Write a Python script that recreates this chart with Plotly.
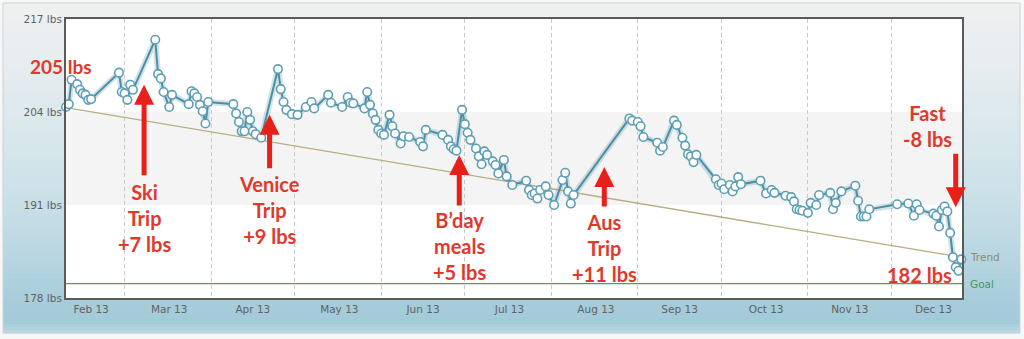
import plotly.graph_objects as go

# ---- daily weigh-ins (lbs) ----
dates = [
    "2013-02-08", "2013-02-09", "2013-02-10", "2013-02-12", "2013-02-13", "2013-02-14",
    "2013-02-15", "2013-02-16", "2013-02-17", "2013-02-27", "2013-02-28", "2013-03-01",
    "2013-03-02", "2013-03-03", "2013-03-04", "2013-03-12", "2013-03-13", "2013-03-14",
    "2013-03-15", "2013-03-17", "2013-03-18", "2013-03-24", "2013-03-25", "2013-03-26",
    "2013-03-27", "2013-03-28", "2013-03-29", "2013-03-30", "2013-03-31", "2013-04-09",
    "2013-04-10", "2013-04-11", "2013-04-12", "2013-04-13", "2013-04-14", "2013-04-15",
    "2013-04-16", "2013-04-17", "2013-04-19", "2013-04-25", "2013-04-26", "2013-04-27",
    "2013-04-28", "2013-04-30", "2013-05-02", "2013-05-05", "2013-05-07", "2013-05-08",
    "2013-05-13", "2013-05-14", "2013-05-18", "2013-05-20", "2013-05-21", "2013-05-22",
    "2013-05-26", "2013-05-27", "2013-05-28", "2013-05-29", "2013-05-30", "2013-05-31",
    "2013-06-01", "2013-06-02", "2013-06-04", "2013-06-05", "2013-06-06", "2013-06-08",
    "2013-06-09", "2013-06-11", "2013-06-15", "2013-06-16", "2013-06-17", "2013-06-23",
    "2013-06-25", "2013-06-26", "2013-06-27", "2013-06-28", "2013-06-30", "2013-07-01",
    "2013-07-02", "2013-07-03", "2013-07-05", "2013-07-06", "2013-07-07", "2013-07-08",
    "2013-07-09", "2013-07-11", "2013-07-12", "2013-07-13", "2013-07-15", "2013-07-16",
    "2013-07-18", "2013-07-23", "2013-07-24", "2013-07-25", "2013-07-26", "2013-07-27",
    "2013-07-28", "2013-07-30", "2013-07-31", "2013-08-02", "2013-08-05", "2013-08-06",
    "2013-08-07", "2013-08-08", "2013-08-09", "2013-08-29", "2013-08-30", "2013-09-01",
    "2013-09-02", "2013-09-03", "2013-09-08", "2013-09-09", "2013-09-10", "2013-09-14",
    "2013-09-15", "2013-09-17", "2013-09-18", "2013-09-19", "2013-09-20", "2013-09-21",
    "2013-09-22", "2013-09-29", "2013-09-30", "2013-10-01", "2013-10-02", "2013-10-04",
    "2013-10-05", "2013-10-06", "2013-10-07", "2013-10-08", "2013-10-15", "2013-10-17",
    "2013-10-19", "2013-10-20", "2013-10-24", "2013-10-26", "2013-10-27", "2013-10-28",
    "2013-10-29", "2013-10-30", "2013-11-01", "2013-11-02", "2013-11-04", "2013-11-05",
    "2013-11-09", "2013-11-10", "2013-11-11", "2013-11-13", "2013-11-18", "2013-11-19",
    "2013-11-20", "2013-11-21", "2013-11-22", "2013-11-23", "2013-12-03", "2013-12-07",
    "2013-12-09", "2013-12-10", "2013-12-11", "2013-12-16", "2013-12-17", "2013-12-18",
    "2013-12-19", "2013-12-20", "2013-12-21", "2013-12-22", "2013-12-23", "2013-12-24",
    "2013-12-25", "2013-12-26",
]
weights = [
    204.7, 205.1, 208.5, 207.9, 207.1, 206.6,
    206.4, 205.7, 205.8, 209.5, 206.8, 206.6,
    205.7, 207.8, 207.1, 214.1, 209.3, 208.7,
    206.8, 204.7, 206.4, 205.1, 206.9, 206.6,
    206.1, 205.0, 204.1, 202.4, 205.4, 205.1,
    203.8, 202.6, 201.3, 201.3, 204.0, 202.9,
    201.3, 200.9, 200.4, 210.0, 207.2, 205.4,
    204.3, 203.7, 203.6, 204.7, 205.4, 204.5,
    206.4, 205.3, 204.7, 206.1, 205.3, 205.2,
    204.5, 206.8, 205.0, 203.8, 202.9, 201.5,
    201.0, 200.8, 203.6, 202.0, 201.0, 199.6,
    200.6, 200.5, 199.8, 199.2, 201.5, 200.8,
    200.1, 199.2, 198.8, 198.6, 204.3, 202.3,
    201.1, 200.1, 198.9, 197.8, 196.7, 198.5,
    198.0, 197.1, 196.6, 195.4, 197.3, 195.0,
    193.8, 194.4, 193.1, 192.4, 192.6, 191.9,
    193.1, 193.6, 192.4, 191.0, 194.5, 195.5,
    192.9, 191.2, 192.4, 203.1, 202.8, 202.6,
    202.0, 200.5, 199.7, 198.6, 199.1, 202.8,
    202.2, 200.4, 199.3, 198.1, 197.8, 197.0,
    198.0, 194.6, 193.8, 194.0, 193.2, 193.8,
    192.9, 193.6, 194.9, 193.9, 194.4, 192.6,
    193.1, 192.7, 192.3, 192.1, 191.5, 190.4,
    190.3, 190.2, 189.9, 191.3, 191.0, 192.4,
    192.7, 190.4, 191.3, 192.9, 193.7, 191.6,
    189.4, 189.4, 189.4, 190.4, 191.1, 191.2,
    189.5, 191.1, 190.3, 189.8, 189.5, 188.0,
    190.3, 190.8, 190.1, 187.1, 183.7, 182.3,
    181.8, 183.4,
]

# ---- trend and goal ----
trend_dates = ["2013-02-08", "2013-12-26"]
trend_values = [204.6, 183.7]
goal_dates = ["2013-02-08", "2013-12-26 06:00"]
goal_values = [180, 180]

# ---- axes ----
x_range = ["2013-02-08", "2013-12-26 06:00"]
month_starts = ["2013-03-01", "2013-04-01", "2013-05-01", "2013-06-01", "2013-07-01",
                "2013-08-01", "2013-09-01", "2013-10-01", "2013-11-01", "2013-12-01"]
month_label_dates = ["2013-02-17", "2013-03-17", "2013-04-16", "2013-05-17", "2013-06-16",
                     "2013-07-17", "2013-08-17", "2013-09-16", "2013-10-17", "2013-11-16",
                     "2013-12-16"]
month_labels = ["Feb 13", "Mar 13", "Apr 13", "May 13", "Jun 13", "Jul 13",
                "Aug 13", "Sep 13", "Oct 13", "Nov 13", "Dec 13"]
y_ticks = [178, 191, 204, 217]
y_tick_labels = ["178 lbs", "191 lbs", "204 lbs", "217 lbs"]
band_low, band_high = 191, 204

# ---- event callouts: (arrow tip date, tip weight, tail offset px, label date, label weight, text)
events = [
    ("2013-03-08", 207.8, 92, "2013-03-08", 189.2, "Ski<br>Trip<br>+7 lbs"),
    ("2013-04-22", 203.6, 55, "2013-04-22", 190.3, "Venice<br>Trip<br>+9 lbs"),
    ("2013-06-29", 198.0, 52, "2013-06-29", 185.3, "B\u2019day<br>meals<br>+5 lbs"),
    ("2013-08-20", 196.3, 41, "2013-08-20", 185.0, "Aus<br>Trip<br>+11 lbs"),
    ("2013-12-24", 190.7, -55, "2013-12-14", 202.1, "Fast<br>-8 lbs"),
]

W, H = 1024, 339
ML, MR, MT, MB = 66, 62, 19, 41
PW, PH = W - ML - MR, H - MT - MB


def paper_x(px):
    return (px - ML) / PW


def paper_y(py):
    return (H - MB - py) / PH


def hex_to_rgb(h):
    h = h.lstrip("#")
    return tuple(int(h[i:i + 2], 16) for i in (0, 2, 4))


# background gradient of the frame (top grey to bottom blue)
grad_stops = [(3, "#eff0f0"), (60, "#e7edf0"), (150, "#d6e6eb"), (230, "#c1dbe4"),
              (300, "#a7cddb"), (322, "#a3cad8"), (333, "#bbd9e3")]


def grad_color(py):
    for (y0, c0), (y1, c1) in zip(grad_stops, grad_stops[1:]):
        if y0 <= py <= y1:
            t = (py - y0) / (y1 - y0)
            a, b = hex_to_rgb(c0), hex_to_rgb(c1)
            return "rgb(%d,%d,%d)" % tuple(round(a[i] + (b[i] - a[i]) * t) for i in range(3))
    return grad_stops[-1][1]


shapes = []
step = 3
py = grad_stops[0][0]
while py < grad_stops[-1][0]:
    shapes.append(dict(type="rect", xref="paper", yref="paper", layer="below",
                       x0=paper_x(3), x1=paper_x(1020), y0=paper_y(py + step + 0.5), y1=paper_y(py),
                       fillcolor=grad_color(py + step / 2), line=dict(width=0)))
    py += step
shapes.append(dict(type="rect", xref="paper", yref="paper", layer="below",
                   x0=paper_x(3), x1=paper_x(1020), y0=paper_y(333), y1=paper_y(3),
                   fillcolor="rgba(0,0,0,0)", line=dict(color="#cdd3d6", width=1)))
# white plotting area and the grey band
shapes.append(dict(type="rect", xref="paper", yref="paper", layer="below",
                   x0=0, x1=1, y0=0, y1=1, fillcolor="white", line=dict(width=0)))
shapes.append(dict(type="rect", xref="paper", yref="y", layer="below",
                   x0=0, x1=1, y0=band_low, y1=band_high, fillcolor="#f4f4f4", line=dict(width=0)))

fig = go.Figure()
fig.add_trace(go.Scatter(x=goal_dates, y=goal_values, mode="lines",
                         line=dict(color="#4f9d62", width=1.2), hoverinfo="skip"))
fig.add_trace(go.Scatter(x=trend_dates, y=trend_values, mode="lines",
                         line=dict(color="#b9ad84", width=1.3), hoverinfo="skip"))
fig.add_trace(go.Scatter(x=dates, y=weights, mode="lines",
                         line=dict(color="rgba(90,150,175,0.28)", width=6), hoverinfo="skip"))
fig.add_trace(go.Scatter(x=dates, y=weights, mode="lines+markers", cliponaxis=False,
                         line=dict(color="#4a8ea6", width=2),
                         marker=dict(symbol="circle", size=8.5, color="white",
                                     line=dict(color="#5c9fb5", width=1.6))))

red = "#e2382b"
label_font = dict(family="Lato, 'Open Sans', sans-serif", size=20, color=red)
annotations = []
for tip_x, tip_y, tail, lab_x, lab_y, text in events:
    annotations.append(dict(x=tip_x, y=tip_y, xref="x", yref="y", text="", showarrow=True,
                            ax=0, ay=tail, arrowhead=2, arrowsize=0.8, arrowwidth=5,
                            arrowcolor="#e8201a", standoff=0, startstandoff=0))
    annotations.append(dict(x=lab_x, y=lab_y, xref="x", yref="y", text="<b>%s</b>" % text,
                            showarrow=False, font=label_font, align="center",
                            xanchor="center", yanchor="middle"))
annotations.append(dict(x=paper_x(61), y=210.3, xref="paper", yref="y", text="<b>205 lbs</b>",
                        showarrow=False, font=dict(label_font, size=19),
                        xanchor="center", yanchor="middle"))
annotations.append(dict(x="2013-12-11", y=181.2, xref="x", yref="y", text="<b>182 lbs</b>",
                        showarrow=False, font=label_font, xanchor="center", yanchor="middle"))
annotations.append(dict(x=paper_x(968), y=trend_values[-1], xref="paper", yref="y", text="Trend",
                        showarrow=False, xanchor="left", yanchor="middle",
                        font=dict(family="DejaVu Sans", size=10.5, color="#8e8b6c")))
annotations.append(dict(x=paper_x(968), y=goal_values[-1], xref="paper", yref="y", text="Goal",
                        showarrow=False, xanchor="left", yanchor="middle",
                        font=dict(family="DejaVu Sans", size=10.5, color="#3e9a5c")))

tick_font = dict(family="DejaVu Sans", size=10.5, color="#5e6366")
fig.update_layout(
    width=W, height=H, autosize=False,
    margin=dict(l=ML, r=MR, t=MT, b=MB, pad=0),
    paper_bgcolor="#f6f8f8", plot_bgcolor="white",
    showlegend=False,
    shapes=shapes, annotations=annotations,
    xaxis=dict(type="date", range=x_range, tickvals=month_label_dates, ticktext=month_labels,
               showgrid=False, zeroline=False, showline=True, mirror=True,
               linecolor="#5a5a5a", linewidth=2, ticks="", tickfont=tick_font,
               minor=dict(tickvals=month_starts, showgrid=True, gridcolor="#c9c9c9",
                          griddash="4px,3px", gridwidth=1, ticks="")),
    yaxis=dict(range=[y_ticks[0], y_ticks[-1]], tickvals=y_ticks, ticktext=y_tick_labels,
               showgrid=False, zeroline=False, showline=True, mirror=True,
               linecolor="#5a5a5a", linewidth=2, ticks="", tickfont=tick_font),
)

fig.write_html("out.html")
